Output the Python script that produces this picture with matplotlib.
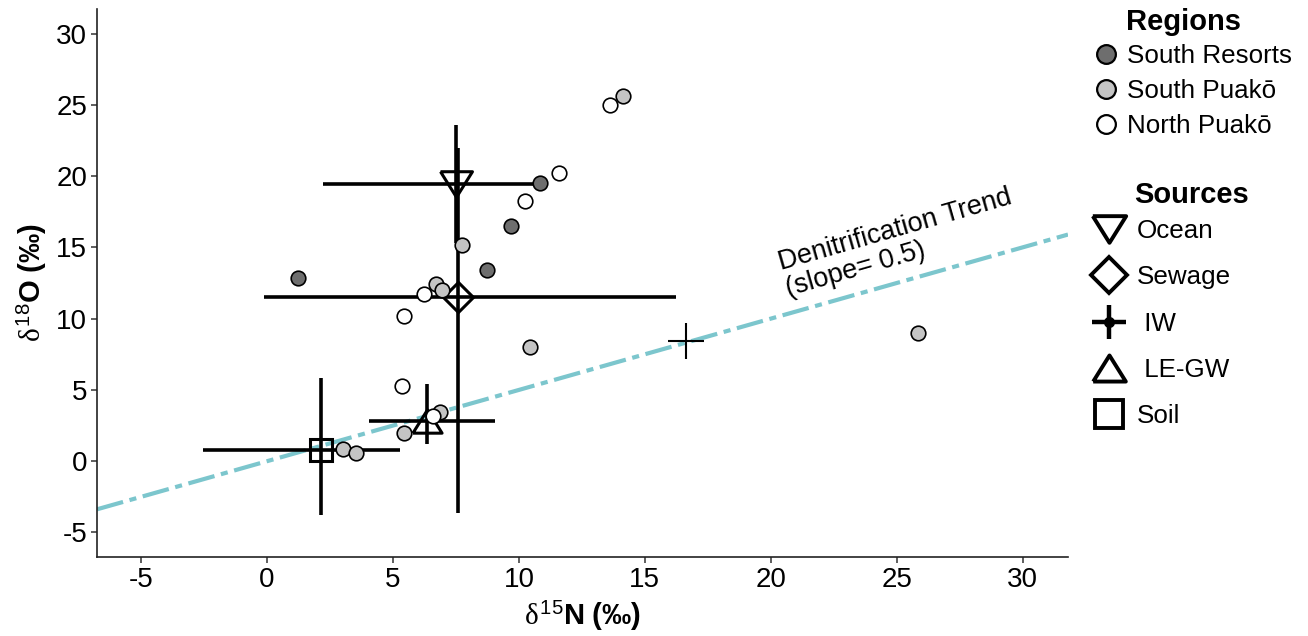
import matplotlib
matplotlib.use('Agg')
import matplotlib.pyplot as plt
from matplotlib.lines import Line2D
from matplotlib.legend_handler import HandlerTuple
import numpy as np

plt.rcParams['font.family'] = ['Liberation Sans', 'DejaVu Sans']
plt.rcParams['mathtext.fontset'] = 'custom'
plt.rcParams['mathtext.rm'] = 'Liberation Sans'
plt.rcParams['mathtext.it'] = 'Liberation Serif'
plt.rcParams['mathtext.bf'] = 'Liberation Sans:bold'
plt.rcParams['axes.unicode_minus'] = False

# ---------------- data ----------------
region_names = ['South Resorts', 'South Puakō', 'North Puakō']
region_colors = ['#6e6e6e', '#c4c4c4', '#ffffff']

resorts_n = [1.24, 10.83, 9.67, 8.72]
resorts_o = [12.82, 19.53, 16.51, 13.40]
spuako_n = [14.12, 7.73, 6.71, 6.93, 10.46, 25.83, 6.87, 5.44, 3.03, 3.52]
spuako_o = [25.61, 15.16, 12.42, 12.00, 8.02, 8.98, 3.46, 2.01, 0.89, 0.61]
npuako_n = [13.61, 11.60, 10.24, 6.23, 5.45, 5.35, 6.60]
npuako_o = [24.98, 20.23, 18.25, 11.70, 10.22, 5.26, 3.16]

source_names = ['Ocean', 'Sewage', 'IW', 'LE-GW', 'Soil']
source_labels = ['Ocean', 'Sewage', ' IW', ' LE-GW', 'Soil']
source_n = [7.49, 7.58, 16.63, 6.35, 2.16]
source_o = [19.44, 11.51, 8.42, 2.83, 0.76]
source_n_min = [2.22, -0.12, 15.91, 4.06, -2.53]
source_n_max = [11.11, 16.23, 17.34, 9.05, 5.28]
source_o_min = [15.30, -3.65, 7.16, 1.19, -3.74]
source_o_max = [23.58, 21.96, 9.68, 5.45, 5.87]

denit_slope = 0.5
denit_intercept = 0.0

x_ticks = [-5, 0, 5, 10, 15, 20, 25, 30]
y_ticks = [-5, 0, 5, 10, 15, 20, 25, 30]

# ---------------- figure ----------------
W, H = 1308, 636
fig = plt.figure(figsize=(W / 100, H / 100), dpi=100)
ax = fig.add_axes([97 / W, 1 - 557 / H, (1068 - 97) / W, (557 - 9.3) / H])
ax.set_xlim(-6.75, 31.8)
ax.set_ylim(-6.72, 31.7)

# denitrification trend line
xl = np.array(ax.get_xlim())
ax.plot(xl, denit_slope * xl + denit_intercept, color='#7cc6cd', lw=3.0,
        dashes=(6.5, 1.6, 1.7, 1.6), zorder=1.5)

# source markers
tri_down = [(-1, 0.8), (1, 0.8), (0, -0.8), (-1, 0.8)]
tri_up = [(-1, -0.8), (1, -0.8), (0, 0.8), (-1, -0.8)]
src_marker = [tri_down, 'D', None, tri_up, 's']
src_ms = [23, 15.5, 0, 21, 16]
src_leg_ms = [24, 18, 0, 23.5, 20]
src_lw = [2.6, 2.6, 1.5, 2.6, 2.6]

for i in range(len(source_names)):
    n, o = source_n[i], source_o[i]
    ax.errorbar([n], [o],
                xerr=[[n - source_n_min[i]], [source_n_max[i] - n]],
                yerr=[[o - source_o_min[i]], [source_o_max[i] - o]],
                fmt='none', ecolor='black', elinewidth=src_lw[i], capsize=0,
                zorder=2)
    if src_marker[i] is not None:
        ax.plot([n], [o], linestyle='none', marker=src_marker[i],
                markersize=src_ms[i], markerfacecolor='none',
                markeredgecolor='black', markeredgewidth=2.2, zorder=3)

# region points
for xs, ys, c in zip([resorts_n, spuako_n, npuako_n],
                     [resorts_o, spuako_o, npuako_o], region_colors):
    ax.plot(xs, ys, linestyle='none', marker='o', markersize=10.5,
            markerfacecolor=c, markeredgecolor='black', markeredgewidth=1.2,
            zorder=4)

# annotation
ax.text(25.1, 15.3, 'Denitrification Trend\n(slope= 0.5)', fontsize=19.5,
        rotation=16, rotation_mode='anchor', ha='center', va='center',
        multialignment='left', linespacing=1.05, zorder=5)

# axes styling
for s in ['top', 'right']:
    ax.spines[s].set_visible(False)
for s in ['left', 'bottom']:
    ax.spines[s].set_linewidth(1.2)
    ax.spines[s].set_color('#222222')
ax.set_xticks(x_ticks)
ax.set_yticks(y_ticks)
ax.tick_params(axis='both', labelsize=20, length=4, width=1.1,
               color='#333333', pad=3)
ax.set_xlabel(r'$\delta^{15}\mathbf{N\ (‰)}$', fontsize=21, labelpad=5)
ax.set_ylabel(r'$\delta^{18}\mathbf{O\ (‰)}$', fontsize=21, labelpad=5)

# legends
FS = 18.7
reg_handles = [Line2D([], [], linestyle='none', marker='o', markersize=13.5,
                      markerfacecolor=c, markeredgecolor='black',
                      markeredgewidth=1.6) for c in region_colors]
leg1 = fig.legend(reg_handles, region_names, loc='upper left',
                  bbox_to_anchor=(1093 / W, 1 - 44 / H), frameon=False,
                  fontsize=FS, handlelength=1.0, handletextpad=0.31,
                  borderpad=0, borderaxespad=0, labelspacing=0.42)

src_handles = []
for i in range(len(source_names)):
    if source_names[i] == 'IW':
        h = (Line2D([], [], linestyle='none', marker='+', markersize=24,
                    markeredgecolor='black', markeredgewidth=3.2),
             Line2D([], [], linestyle='none', marker='o', markersize=7,
                    markerfacecolor='black', markeredgecolor='black'))
    else:
        h = Line2D([], [], linestyle='none', marker=src_marker[i],
                   markersize=src_leg_ms[i], markerfacecolor='none',
                   markeredgecolor='black', markeredgewidth=2.8)
    src_handles.append(h)
leg2 = fig.legend(src_handles, source_labels, loc='upper left',
                  bbox_to_anchor=(1096 / W, 1 - 219 / H), frameon=False,
                  fontsize=FS, handlelength=1.0, handletextpad=0.58,
                  borderpad=0, borderaxespad=0, labelspacing=0.86,
                  handler_map={tuple: HandlerTuple(ndivide=1)})

fig.text(1183 / W, 1 - 30 / H, 'Regions', fontsize=21, fontweight='bold',
         ha='center', va='baseline')
fig.text(1192 / W, 1 - 203 / H, 'Sources', fontsize=21, fontweight='bold',
         ha='center', va='baseline')

fig.savefig('out.png', dpi=100)
